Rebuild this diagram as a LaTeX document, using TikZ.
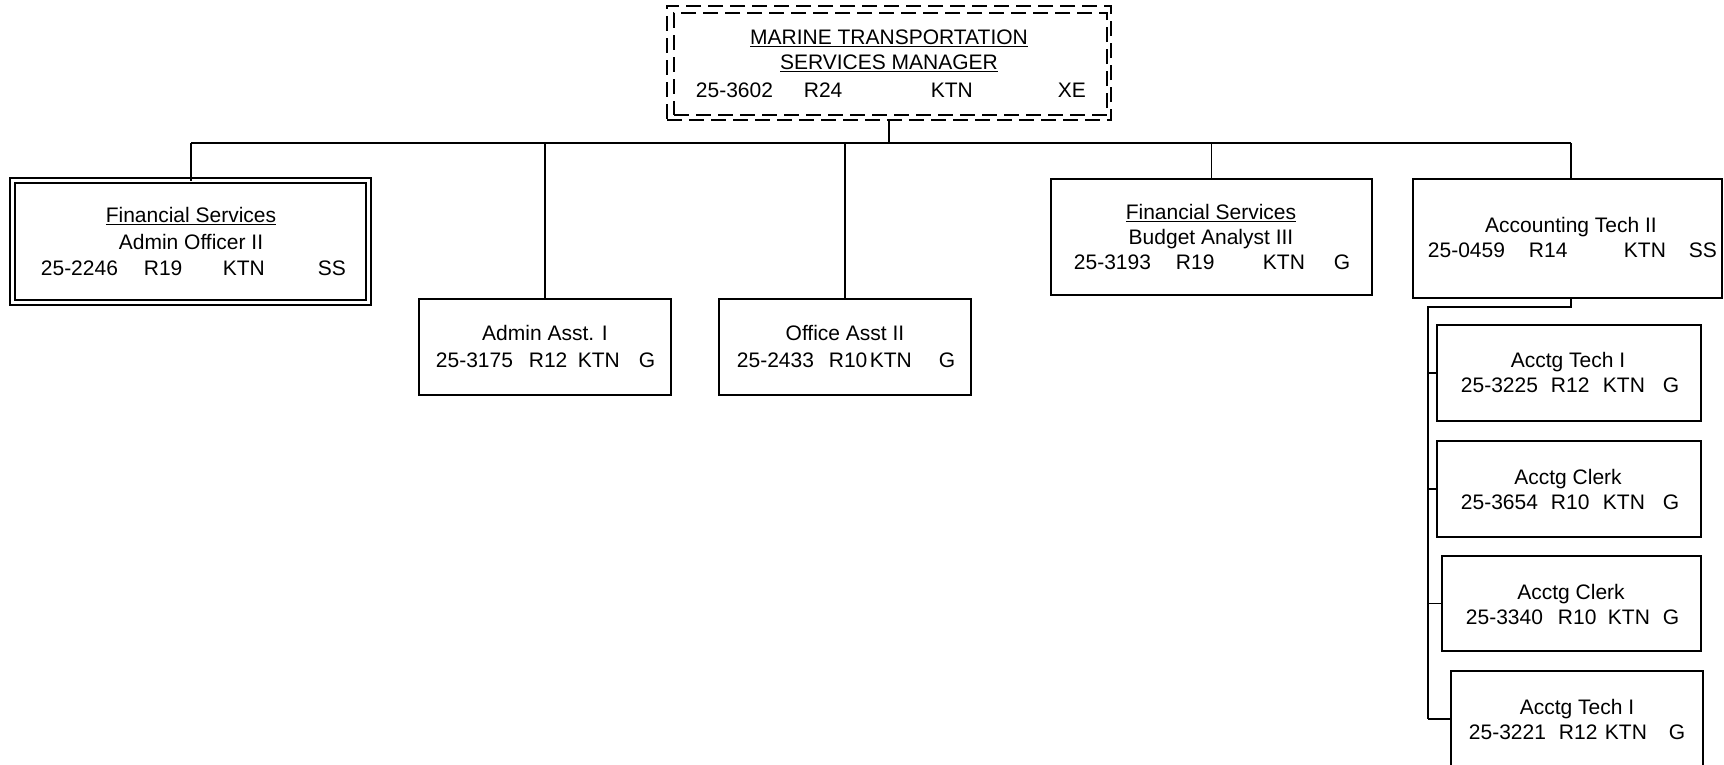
\documentclass[tikz,border=0pt]{standalone}
\usepackage{fontspec}
\setmainfont{Liberation Sans}
\begin{document}
\begin{tikzpicture}[x=1pt,y=-1pt,line width=1.8pt,
  box/.style={draw,rectangle,inner sep=0pt,outer sep=0pt,line width=1.8pt},
  dbox/.style={box,double=white,double distance=3.2pt,line width=1.6pt},
  dashbox/.style={box,dash pattern=on 15pt off 7pt},
  fld/.style={anchor=base west,inner sep=0pt,font=\fontsize{21}{25}\selectfont},
  ttl/.style={anchor=base,inner sep=0pt,font=\fontsize{21}{25}\selectfont}]
\useasboundingbox (0,0) rectangle (1724,764);
% boxes
\node[dashbox,minimum width=444pt,minimum height=114pt] (mgr) at (889,63) {};
\node[dashbox,minimum width=433pt,minimum height=102pt] (mgrin) at (890.5,64) {};
\node[dbox,minimum width=356pt,minimum height=122pt] (b1) at (190.5,241.5) {};
\node[box,minimum width=252pt,minimum height=96pt] (b2) at (545,347) {};
\node[box,minimum width=252pt,minimum height=96pt] (b3) at (845,347) {};
\node[box,minimum width=321pt,minimum height=116pt] (b4) at (1211.5,237) {};
\node[box,minimum width=309pt,minimum height=119pt] (b5) at (1567.5,238.5) {};
\node[box,minimum width=264pt,minimum height=96pt] (b6) at (1569,373) {};
\node[box,minimum width=264pt,minimum height=96pt] (b7) at (1569,489) {};
\node[box,minimum width=259pt,minimum height=95pt] (b8) at (1571.5,603.5) {};
\node[box,minimum width=252pt,minimum height=96pt] (b9) at (1577,719) {};
% connectors
\coordinate (busL) at (191,143);
\coordinate (busR) at (1571,143);
\coordinate (spine) at (1428,307);
\draw (mgr.south) -- (mgr.south |- busL);
\draw (busL) -- (busR);
\draw (busL) -- (busL |- b1.north);
\draw (b2.north |- busL) -- (b2.north);
\draw (b3.north |- busL) -- (b3.north);
\draw (b4.north |- busL) -- (b4.north);
\draw (busR) -- (busR |- b5.north);
\draw (busR |- b5.south) |- (spine) -- (spine |- b9.west);
\draw (spine |- b6.west) -- (b6.west);
\draw (spine |- b7.west) -- (b7.west);
\draw (spine |- b8.west) -- (b8.west);
\draw (spine |- b9.west) -- (b9.west);
% texts: manager
\node[ttl] (m1) at (889,44.5) {\underline{MARINE TRANSPORTATION}};
\node[ttl] (m2) at (889,69.5) {\underline{SERVICES MANAGER}};
\node[fld] (m3) at (695,97.5) {25-3602};
\node[fld] (m4) at (803,97.5) {R24};
\node[fld] (m5) at (930,97.5) {KTN};
\node[fld] (m6) at (1057,97.5) {XE};
% box1
\node[ttl] (a1) at (191,222.5) {\underline{Financial Services}};
\node[ttl] (a2) at (191,249.5) {Admin Officer II};
\node[fld] (a3) at (40,275.5) {25-2246};
\node[fld] (a4) at (143,275.5) {R19};
\node[fld] (a5) at (222,275.5) {KTN};
\node[fld] (a6) at (317,275.5) {SS};
% box2
\node[ttl] (c1) at (545,340.5) {Admin Asst. I};
\node[fld] (c2) at (435,367.5) {25-3175};
\node[fld] (c3) at (528,367.5) {R12};
\node[fld] (c4) at (577,367.5) {KTN};
\node[fld] (c5) at (638,367.5) {G};
% box3
\node[ttl] (d1) at (845,340.5) {Office Asst II};
\node[fld] (d2) at (736,367.5) {25-2433};
\node[fld] (d3) at (828,367.5) {R10};
\node[fld] (d4) at (869,367.5) {KTN};
\node[fld] (d5) at (938,367.5) {G};
% box4
\node[ttl] (e1) at (1211,219.5) {\underline{Financial Services}};
\node[ttl] (e2) at (1211,244.5) {Budget Analyst III};
\node[fld] (e3) at (1073,269.5) {25-3193};
\node[fld] (e4) at (1175,269.5) {R19};
\node[fld] (e5) at (1262,269.5) {KTN};
\node[fld] (e6) at (1333,269.5) {G};
% box5
\node[ttl] (g1) at (1571,232.5) {Accounting Tech II};
\node[fld] (g2) at (1427,257.5) {25-0459};
\node[fld] (g3) at (1528,257.5) {R14};
\node[fld] (g4) at (1623,257.5) {KTN};
\node[fld] (g5) at (1688,257.5) {SS};
% box6
\node[ttl] (h1) at (1568,367.5) {Acctg Tech I};
\node[fld] (h2) at (1460,392.5) {25-3225};
\node[fld] (h3) at (1550,392.5) {R12};
\node[fld] (h4) at (1602,392.5) {KTN};
\node[fld] (h5) at (1662,392.5) {G};
% box7
\node[ttl] (i1) at (1568,484.5) {Acctg Clerk};
\node[fld] (i2) at (1460,509.5) {25-3654};
\node[fld] (i3) at (1550,509.5) {R10};
\node[fld] (i4) at (1602,509.5) {KTN};
\node[fld] (i5) at (1662,509.5) {G};
% box8
\node[ttl] (j1) at (1571,599.5) {Acctg Clerk};
\node[fld] (j2) at (1465,624.5) {25-3340};
\node[fld] (j3) at (1557,624.5) {R10};
\node[fld] (j4) at (1607,624.5) {KTN};
\node[fld] (j5) at (1662,624.5) {G};
% box9
\node[ttl] (k1) at (1577,714.5) {Acctg Tech I};
\node[fld] (k2) at (1468,739.5) {25-3221};
\node[fld] (k3) at (1558,739.5) {R12};
\node[fld] (k4) at (1604,739.5) {KTN};
\node[fld] (k5) at (1668,739.5) {G};
\end{tikzpicture}
\end{document}
